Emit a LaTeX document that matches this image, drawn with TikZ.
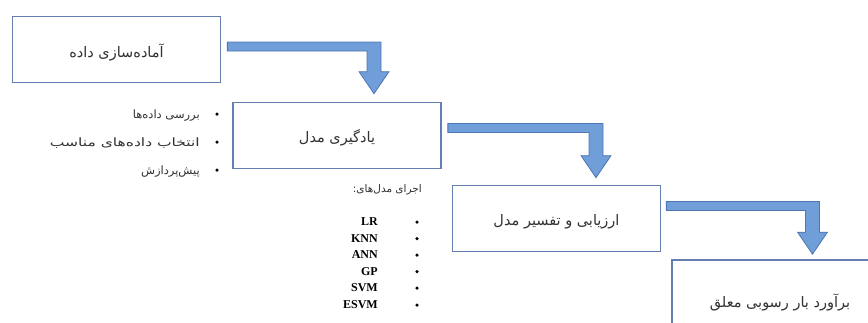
\documentclass[tikz,border=0pt]{standalone}
\usepackage{fontspec}
\usetikzlibrary{calc}
\TeXXeTstate=1
\newfontfamily\arabicfont[Script=Arabic]{DejaVu Sans}
\newfontfamily\latinbold{Liberation Serif}
\definecolor{boxline}{RGB}{100,126,176}
\definecolor{arrowfill}{RGB}{112,158,216}
\definecolor{arrowline}{RGB}{78,118,178}
\definecolor{txt}{RGB}{50,50,50}
\newcommand{\fa}[1]{{\arabicfont\beginR #1\endR}}
\newcommand{\bentarrow}[2]{%
  \path[fill=arrowfill,draw=arrowline,line width=0.8pt]
    let \p1=(#1), \p2=(#2) in
    (\x1,\y1+4.5pt) -- (\x2+7pt,\y1+4.5pt) -- (\x2+7pt,\y2+22pt) -- (\x2+15pt,\y2+22pt)
    -- (\x2,\y2) -- (\x2-15pt,\y2+22pt) -- (\x2-7pt,\y2+22pt) -- (\x2-7pt,\y1-4.5pt)
    -- (\x1,\y1-4.5pt) -- cycle;}
\tikzset{
  stagebox/.style={draw=boxline,line width=1.7pt,fill=white,rectangle,minimum width=208pt,minimum height=66pt,inner sep=0pt,text=txt,font=\arabicfont\fontsize{14.5}{17}\selectfont},
  boxlabel/.style={inner sep=0pt,text=txt,font=\arabicfont\fontsize{14.5}{17}\selectfont},
  bulletdot/.style={fill=black,circle,inner sep=0pt,minimum size=3.5pt},
  itemtext/.style={anchor=east,inner sep=0pt,text=txt,font=\arabicfont\fontsize{11.5}{14}\selectfont},
  modeltext/.style={anchor=east,inner sep=0pt,text=black,font=\latinbold\bfseries\fontsize{12}{14}\selectfont}
}
\begin{document}
\begin{tikzpicture}[x=1pt,y=-1pt]
\useasboundingbox (0,0) rectangle (868,322);
\clip (0,0) rectangle (868,322);
% boxes
\node[stagebox] (b1) at (116.5,49.5) {};
\node[stagebox] (b2) at (337,135.5) {};
\node[stagebox] (b3) at (556.5,218.5) {};
\node[stagebox,minimum height=80pt] (b4) at (776,300) {};
\node[boxlabel] (t1) at ($(b1.center)+(0,2.5)$) {\fa{آماده^^^^200cسازی داده}};
\node[boxlabel] (t2) at ($(b2.center)+(0,2)$) {\fa{یادگیری مدل}};
\node[boxlabel] (t3) at ($(b3.center)+(0,3)$) {\fa{ارزیابی و تفسیر مدل}};
\node[boxlabel] (t4) at (780,302) {\fa{برآورد بار رسوبی معلق}};
% arrow anchor coordinates
\coordinate (a1s) at ($(b1.east)+(6,-3)$);
\coordinate (a1t) at ($(b2.north)+(37,-8)$);
\coordinate (a2s) at ($(b2.east)+(6,-7.5)$);
\coordinate (a2t) at ($(b3.north)+(39.5,-7)$);
\coordinate (a3s) at ($(b3.east)+(5,-12.5)$);
\coordinate (a3t) at ($(b4.north)+(36.5,-5)$);
\bentarrow{a1s}{a1t}
\bentarrow{a2s}{a2t}
\bentarrow{a3s}{a3t}
% left bullets
\node[bulletdot] (d1) at (217,114) {};
\node[bulletdot] (d2) at (217,142) {};
\node[bulletdot] (d3) at (217,170) {};
\node[itemtext] (i1) at (200,115.5) {\fa{بررسی داده^^^^200cها}};
\node[itemtext] (i2) at (200,143.5) {\scalebox{1.35}[1]{\fa{انتخاب داده^^^^200cهای مناسب}}};
\node[itemtext] (i3) at (200,171.5) {\fa{پیش^^^^200cپردازش}};
% models
\node[itemtext,font=\arabicfont\fontsize{10.5}{13}\selectfont] (mh) at (422,190) {\fa{اجرای مدل^^^^200cهای:}};
\node[modeltext] (m1) at (378,222) {LR};
\node[modeltext] (m2) at (378,238.5) {KNN};
\node[modeltext] (m3) at (378,255) {ANN};
\node[modeltext] (m4) at (378,271.5) {GP};
\node[modeltext] (m5) at (378,288) {SVM};
\node[modeltext] (m6) at (378,305) {ESVM};
\foreach \yy/\nm in {222/e1,238.5/e2,255/e3,271.5/e4,288/e5,305/e6}
  \node[bulletdot] (\nm) at (417,\yy) {};
\end{tikzpicture}
\end{document}
